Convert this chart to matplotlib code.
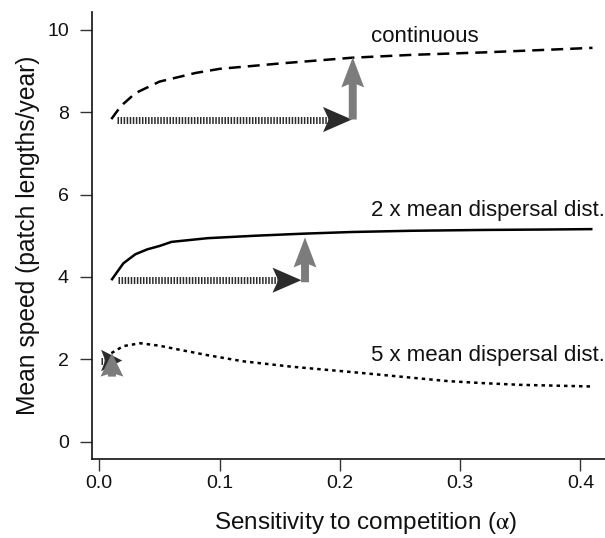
import matplotlib
matplotlib.use("Agg")
import matplotlib.pyplot as plt

plt.rcParams['font.family'] = ['Liberation Sans', 'DejaVu Sans']
plt.rcParams['mathtext.fontset'] = 'stix'

# ---- data ----
cont_x = [0.01, 0.015, 0.02, 0.03, 0.04, 0.05, 0.06, 0.08, 0.1, 0.15, 0.21, 0.26, 0.32, 0.37, 0.41]
cont_y = [7.83, 8.03, 8.2, 8.46, 8.6, 8.74, 8.81, 8.95, 9.05, 9.18, 9.32, 9.39, 9.45, 9.51, 9.56]

two_x = [0.01, 0.02, 0.03, 0.04, 0.05, 0.06, 0.09, 0.13, 0.17, 0.21, 0.26, 0.32, 0.37, 0.41]
two_y = [3.92, 4.33, 4.55, 4.67, 4.75, 4.85, 4.94, 5.0, 5.05, 5.09, 5.12, 5.14, 5.15, 5.16]

five_x = [0.01, 0.02, 0.034, 0.05, 0.067, 0.09, 0.12, 0.16, 0.21, 0.25, 0.29, 0.32, 0.35, 0.38, 0.41]
five_y = [2.15, 2.32, 2.39, 2.33, 2.23, 2.1, 1.95, 1.82, 1.69, 1.58, 1.47, 1.42, 1.38, 1.36, 1.34]

series_labels = ["continuous", "2 x mean dispersal dist.", "5 x mean dispersal dist."]
label_x = [0.2255, 0.2255, 0.2255]
label_y = [9.70, 5.48, 1.96]

# horizontal (dark, striped) arrows
harrow_x0 = [0.015, 0.0155, 0.0015]
harrow_x1 = [0.21, 0.168, 0.019]
harrow_y = [7.82, 3.92, 1.97]
# vertical (grey) arrows
varrow_x = [0.2107, 0.171, 0.0105]
varrow_y0 = [7.82, 3.87, 1.58]
varrow_y1 = [9.33, 4.96, 2.15]

xticks = [0.0, 0.1, 0.2, 0.3, 0.4]
xticklabels = ["0.0", "0.1", "0.2", "0.3", "0.4"]
yticks = [0, 2, 4, 6, 8, 10]

# ---- figure ----
fig = plt.figure(figsize=(6.05, 5.38), dpi=100)
ax = fig.add_axes([92/605, 79/538, (605-92)/605, (459-12)/538])

lw = 1.8
ax.plot(cont_x, cont_y, color='black', lw=lw, dashes=(4.8, 2.8), dash_capstyle='butt')
ax.plot(two_x, two_y, color='black', lw=lw, solid_capstyle='butt')
ax.plot(five_x, five_y, color='black', lw=lw, dashes=(1.4, 1.6), dash_capstyle='butt')

for t, lx, ly in zip(series_labels, label_x, label_y):
    ax.text(lx, ly, t, fontsize=16, va='baseline', ha='left', color='#111111')

dark = '#2b2b2b'
grey = '#7c7c7c'
for i in range(3):
    x0, x1, y = harrow_x0[i], harrow_x1[i], harrow_y[i]
    if i < 2:
        hl, hw = 0.024, 0.61
    else:
        hl, hw = x1 - x0, 0.52
    ov = 0.2
    stem_end = x1 - hl * (1 - ov)
    if stem_end > x0:
        ax.plot([x0, stem_end], [y, y], color=dark, lw=5, dashes=(0.22, 0.22),
                dash_capstyle='butt', solid_capstyle='butt', zorder=3)
    ax.arrow(x1 - hl, y, hl, 0, width=0.0, head_width=hw, head_length=hl,
             length_includes_head=True, overhang=ov, color=dark, lw=0, zorder=4)

for i in range(3):
    x, y0, y1 = varrow_x[i], varrow_y0[i], varrow_y1[i]
    if i < 2:
        hl, hw = 0.73, 0.019
    else:
        hl, hw = y1 - y0, 0.019
    ax.arrow(x, y0, 0, y1 - y0, width=0.0066, head_width=hw, head_length=hl,
             length_includes_head=True, overhang=0.1, color=grey, lw=0, zorder=5)

ax.set_xlim(-0.00607, 0.4204)
ax.set_ylim(-0.42, 10.43)
ax.set_xticks(xticks)
ax.set_xticklabels(xticklabels)
ax.set_yticks(yticks)

for s in ['top', 'right']:
    ax.spines[s].set_visible(False)
for s in ['left', 'bottom']:
    ax.spines[s].set_linewidth(1.2)
    ax.spines[s].set_color('#111111')

ax.tick_params(axis='both', direction='out', length=8.6, width=1.0, color='#333333',
               labelsize=14, labelcolor='#111111')
ax.tick_params(axis='y', pad=8)
ax.tick_params(axis='x', pad=3)

ax.set_xlabel(r"Sensitivity to competition ($\mathrm{\alpha}$)", fontsize=17.5, color='#111111')
ax.set_ylabel("Mean speed (patch lengths/year)", fontsize=17.7, color='#111111', labelpad=5)
ax.xaxis.set_label_coords((366 - 92) / 513, -(523 - 459) / 447, transform=ax.transAxes)
ax.xaxis.label.set_va('center')

fig.savefig("out.png", dpi=100)
